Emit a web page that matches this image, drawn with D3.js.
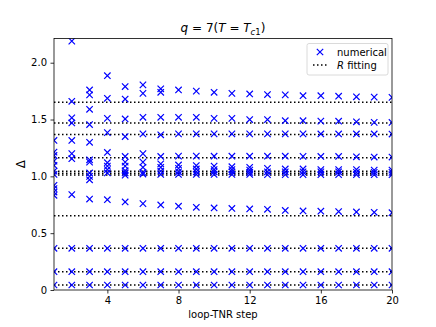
<!DOCTYPE html>
<html>
<head>
<meta charset="utf-8">
<script src="https://cdn.jsdelivr.net/npm/d3@7"></script>
<style>
  body { margin: 0; background: #fff; }
  svg { font-family: 'DejaVu Sans', sans-serif; }
</style>
</head>
<body>
<div id="chart"></div>
<script>
const WIDTH = 436
const HEIGHT = 327
const MARGIN = { top: 38.5, right: 44, bottom: 37, left: 54 }

// loop-TNR steps and the numerical scaling dimensions found at each one
const steps = [1, 2, 3, 4, 5, 6, 7, 8, 9, 10, 11, 12, 13, 14, 15, 16, 17, 18, 19, 20]
const lowDeltas = [0.044, 0.161, 0.367]
const deltas = [
  [0.833, 0.862, 0.892, 0.921, 1.017, 1.046, 1.096, 1.134, 1.184, 1.213, 1.316],
  [0.84, 1.155, 1.2, 1.316, 1.47, 1.515, 1.66, 2.19],
  [0.80, 0.97, 1.0, 1.03, 1.125, 1.146, 1.30, 1.456, 1.59, 1.717, 1.76],
  [0.795, 1.03, 1.06, 1.09, 1.12, 1.21, 1.385, 1.51, 1.687, 1.886],
  [0.775, 1.01, 1.03, 1.05, 1.09, 1.125, 1.175, 1.35, 1.505, 1.68, 1.79],
  [0.76, 1.02, 1.035, 1.08, 1.125, 1.2, 1.374, 1.52, 1.73, 1.805],
  [0.748, 1.017, 1.046, 1.08, 1.11, 1.175, 1.366, 1.52, 1.74, 1.77],
  [0.737, 1.017, 1.04, 1.07, 1.10, 1.178, 1.374, 1.52, 1.76],
  [0.728, 1.017, 1.04, 1.065, 1.095, 1.178, 1.374, 1.52, 1.75],
  [0.722, 1.017, 1.04, 1.06, 1.09, 1.177, 1.374, 1.51, 1.74],
  [0.718, 1.017, 1.04, 1.06, 1.085, 1.177, 1.374, 1.51, 1.73],
  [0.713, 1.017, 1.035, 1.055, 1.08, 1.177, 1.374, 1.50, 1.725],
  [0.71, 1.015, 1.04, 1.07, 1.177, 1.374, 1.50, 1.72],
  [0.70, 1.015, 1.04, 1.065, 1.177, 1.374, 1.49, 1.717],
  [0.696, 1.015, 1.04, 1.065, 1.176, 1.374, 1.49, 1.71],
  [0.693, 1.015, 1.04, 1.06, 1.175, 1.373, 1.486, 1.71],
  [0.69, 1.015, 1.04, 1.06, 1.175, 1.373, 1.485, 1.705],
  [0.687, 1.015, 1.035, 1.06, 1.172, 1.373, 1.48, 1.70],
  [0.684, 1.015, 1.035, 1.055, 1.17, 1.373, 1.475, 1.697],
  [0.68, 1.015, 1.035, 1.055, 1.17, 1.372, 1.474, 1.695]
]
// R fitting levels (horizontal dotted lines)
const fitLevels = [0.044, 0.161, 0.367, 0.654, 1.013, 1.028, 1.045, 1.164, 1.368, 1.47, 1.652]

const xTicks = [4, 8, 12, 16, 20]
const yTicks = [0, 0.5, 1.0, 1.5, 2.0]

const points = steps.flatMap((step, i) =>
  lowDeltas.concat(deltas[i]).map(delta => ({ step, delta })))

const innerW = WIDTH - MARGIN.left - MARGIN.right
const innerH = HEIGHT - MARGIN.top - MARGIN.bottom

const svg = d3.select('#chart')
  .append('svg')
    .attr('width', WIDTH)
    .attr('height', HEIGHT)

const graph = svg.append('g')
  .attr('transform', `translate(${MARGIN.left}, ${MARGIN.top})`)

const xScale = d3.scaleLinear().domain([1, 20]).range([0, innerW])
const yScale = d3.scaleLinear().domain([0, 2.213]).range([innerH, 0])

svg.append('defs').append('clipPath')
    .attr('id', 'plot-clip')
  .append('rect')
    .attr('width', innerW)
    .attr('height', innerH)

const plot = graph.append('g').attr('clip-path', 'url(#plot-clip)')

plot.selectAll('line.fit')
  .data(fitLevels)
  .join('line')
    .attr('class', 'fit')
    .attr('x1', 0)
    .attr('x2', innerW)
    .attr('y1', d => yScale(d))
    .attr('y2', d => yScale(d))
    .attr('stroke', '#000')
    .attr('stroke-width', 1.5)
    .attr('stroke-dasharray', '1.5,2.5')

const S = 3.2
const cross = `M${-S},${-S}L${S},${S}M${-S},${S}L${S},${-S}`

plot.selectAll('path.pt')
  .data(points)
  .join('path')
    .attr('class', 'pt')
    .attr('d', cross)
    .attr('transform', d => `translate(${xScale(d.step)}, ${yScale(d.delta)})`)
    .attr('stroke', '#0000ff')
    .attr('stroke-width', 1.2)
    .attr('fill', 'none')

const xAxis = graph.append('g')
  .attr('transform', `translate(0, ${innerH})`)
  .call(d3.axisBottom(xScale).tickValues(xTicks).tickSize(3.5).tickPadding(3.5).tickFormat(d3.format('d')))

const yAxis = graph.append('g')
  .call(d3.axisLeft(yScale).tickValues(yTicks).tickSize(3.5).tickPadding(3.5)
    .tickFormat(d => d === 0 ? '0' : d3.format('.1f')(d)))

for (const ax of [xAxis, yAxis]) {
  ax.select('.domain').remove()
  ax.selectAll('text').attr('font-size', 10).attr('fill', '#000').attr('font-family', 'DejaVu Sans')
  ax.selectAll('line').attr('stroke', '#000').attr('stroke-width', 0.8)
}

graph.append('rect')
  .attr('width', innerW)
  .attr('height', innerH)
  .attr('fill', 'none')
  .attr('stroke', '#000')
  .attr('stroke-width', 0.8)

// title q = 7(T = T_c1)
const title = svg.append('text')
  .attr('x', MARGIN.left + innerW / 2)
  .attr('y', 32)
  .attr('text-anchor', 'middle')
  .attr('font-size', 12)
  .attr('fill', '#000')
title.append('tspan').attr('font-style', 'italic').text('q')
title.append('tspan').text(' = 7(')
title.append('tspan').attr('font-style', 'italic').text('T')
title.append('tspan').text(' = ')
title.append('tspan').attr('font-style', 'italic').text('T')
title.append('tspan').attr('font-style', 'italic').attr('font-size', 8.5).attr('dy', 2.5).text('c')
title.append('tspan').attr('font-size', 8.5).text('1')
title.append('tspan').attr('dy', -2.5).text(')')

svg.append('text')
  .attr('x', MARGIN.left + innerW / 2)
  .attr('y', 318)
  .attr('text-anchor', 'middle')
  .attr('font-size', 10)
  .attr('fill', '#000')
  .text('loop-TNR step')

svg.append('text')
  .attr('transform', `translate(25, ${MARGIN.top + innerH / 2}) rotate(-90)`)
  .attr('text-anchor', 'middle')
  .attr('font-size', 12)
  .attr('fill', '#000')
  .text('Δ')

// legend
const legend = svg.append('g').attr('transform', 'translate(307, 43.5)')
legend.append('rect')
  .attr('width', 81)
  .attr('height', 31.5)
  .attr('rx', 2)
  .attr('fill', '#fff')
  .attr('fill-opacity', 0.8)
  .attr('stroke', '#d0d0d0')
  .attr('stroke-width', 0.8)
legend.append('path')
  .attr('d', cross)
  .attr('transform', 'translate(13, 8.5)')
  .attr('stroke', '#0000ff')
  .attr('stroke-width', 1.2)
  .attr('fill', 'none')
legend.append('line')
  .attr('x1', 6).attr('x2', 21)
  .attr('y1', 21.5).attr('y2', 21.5)
  .attr('stroke', '#000')
  .attr('stroke-width', 1.5)
  .attr('stroke-dasharray', '1.5,2.5')
legend.append('text')
  .attr('x', 30).attr('y', 12)
  .attr('font-size', 10).attr('fill', '#000')
  .text('numerical')
const fitLabel = legend.append('text')
  .attr('x', 30).attr('y', 25)
  .attr('font-size', 10).attr('fill', '#000')
fitLabel.append('tspan').attr('font-style', 'italic').text('R')
fitLabel.append('tspan').text(' fitting')
</script>
</body>
</html>
